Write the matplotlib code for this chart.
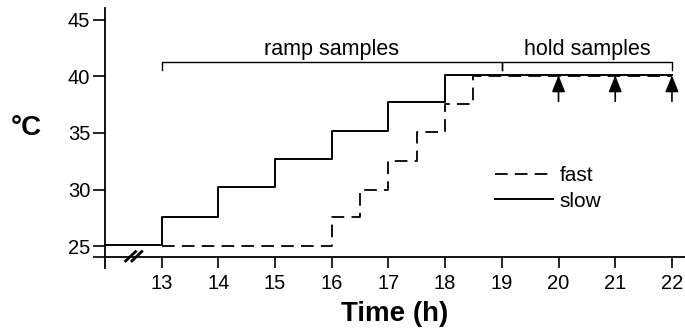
import matplotlib

matplotlib.use('Agg')
import matplotlib.pyplot as plt

plt.rcParams['font.family'] = ['Liberation Sans', 'DejaVu Sans']

# step profiles (time in h, temperature in °C)
slow_t = [12, 13, 14, 15, 16, 17, 18, 22]
slow_v = [25.1, 27.6, 30.2, 32.7, 35.2, 37.7, 40.1, 40.1]
fast_t = [13, 16, 16.5, 17, 17.5, 18, 18.5, 22]
fast_v = [25.0, 27.6, 30.0, 32.5, 35.05, 37.55, 40.0, 40.0]

# sampling annotations
bracket_edges = [13, 19, 22]
bracket_labels = ['ramp samples', 'hold samples']
arrow_times = [20, 21, 22]

x_ticks = [13, 14, 15, 16, 17, 18, 19, 20, 21, 22]
y_ticks = [24, 25, 30, 35, 40, 45]
y_ticklabels = ['', '25', '30', '35', '40', '45']

fig = plt.figure(figsize=(6.85, 3.29), dpi=100)
ax = fig.add_axes([0.153, 0.185, 0.847, 0.791])

ax.step(fast_t, fast_v, where='post', color='black', lw=1.3,
        linestyle=(0, (7, 4)), label='fast')
ax.step(slow_t, slow_v, where='post', color='black', lw=1.4, label='slow')

# brackets over the sample periods
top, drop = 41.3, 40.6
for i, lab in enumerate(bracket_labels):
    a, b = bracket_edges[i], bracket_edges[i + 1]
    ax.plot([a, a, b, b], [drop, top, top, drop], color='black', lw=1.0)
    ax.text((a + b) / 2, 41.45, lab, ha='center', va='bottom', fontsize=15.5)

# sample arrows
for t in arrow_times:
    ax.annotate('', xy=(t, 40.1), xytext=(t, 37.8),
                arrowprops=dict(arrowstyle='-|>,head_length=1.0,head_width=0.4',
                                color='black', lw=1.2, shrinkA=0, shrinkB=0))

# axis break mark (two slanted strokes across the time axis)
for dx in (0.0, 0.11):
    ax.plot([12.35 + dx, 12.56 + dx], [23.6, 24.6], color='black', lw=2.0,
            clip_on=False, solid_capstyle='butt')

ax.set_xlim(12, 22.23)
ax.set_ylim(23.05, 46.06)
ax.set_xticks(x_ticks)
ax.set_yticks(y_ticks)
ax.set_yticklabels(y_ticklabels)
ax.tick_params(axis='both', labelsize=14.5, width=1.2, direction='out')
ax.tick_params(axis='y', length=8.5, pad=2)
ax.tick_params(axis='x', length=8, pad=4)

ax.spines['top'].set_visible(False)
ax.spines['right'].set_visible(False)
ax.spines['left'].set_linewidth(1.3)
ax.spines['bottom'].set_linewidth(1.3)
ax.spines['bottom'].set_position(('data', 24))

ax.set_xlabel('Time (h)', fontsize=20, fontweight='bold', labelpad=6)
ax.set_ylabel('°C', fontsize=20, fontweight='bold', rotation=0,
              va='center', ha='center')
ax.yaxis.set_label_coords(-0.135, 0.54)

leg = ax.legend(loc='center left', bbox_to_anchor=(0.672, 0.306), frameon=False,
                fontsize=15, handlelength=2.8, handletextpad=0.3,
                labelspacing=0.3, borderpad=0, borderaxespad=0)

plt.savefig('out.png', dpi=100)
plt.close()
